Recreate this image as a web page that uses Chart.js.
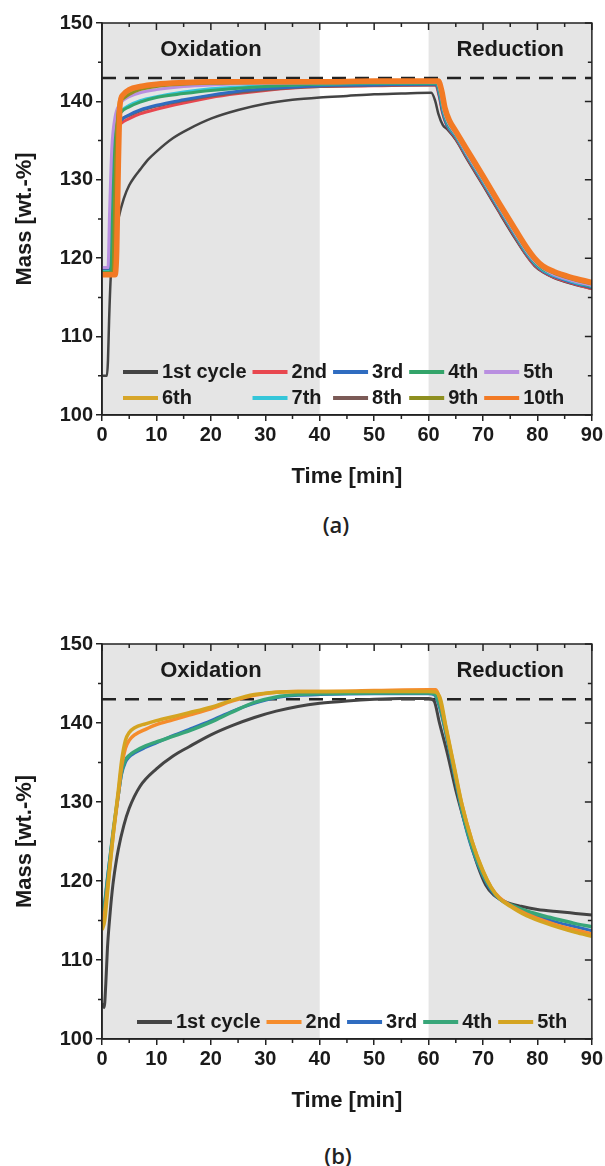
<!DOCTYPE html>
<html>
<head>
<meta charset="utf-8">
<script src="https://cdn.jsdelivr.net/npm/chart.js@4.4.1/dist/chart.umd.min.js"></script>
<style>
  html, body { margin: 0; padding: 0; background: #fff; }
  body { width: 605px; height: 1166px; position: relative; overflow: hidden; }
  canvas { position: absolute; left: 0; }
  .tag { position: absolute; transform: translate(-50%, -50%); font-family: "Open Sans", "DejaVu Sans", sans-serif; font-weight: 600; font-size: 22px; color: #222; }
</style>
</head>
<body>
<canvas id="chartA" width="605" height="495" style="top:0"></canvas>
<canvas id="chartB" width="605" height="498" style="top:621px"></canvas>
<div class="tag" style="left:336px;top:524px">(a)</div>
<div class="tag" style="left:338px;top:1155px">(b)</div>
<script>
// ---- data: [time (min), mass (wt.-%)] ----
const shadedRanges = [[0, 40], [60, 90]]
const phaseLabels = ['Oxidation', 'Reduction']
const phaseLabelT = [20, 75]
const phaseLabelMass = 146.6
const refMass = 143
const refLineT = [0, 90]

// (a) ten cycles
const labelsA = ['1st cycle', '2nd', '3rd', '4th', '5th', '6th', '7th', '8th', '9th', '10th']
const colorsA = ['#444444', '#e8474f', '#2f6cc0', '#33a46a', '#b98fe0', '#d7a62a', '#35c6d9', '#7b5a56', '#8e8f20', '#f27a25']

const cycle1A = [[0,105.0],[0.9,105.0],[1.1,107],[1.3,112],[1.6,117.5],[2.0,120.5],[2.5,123],[3,125],[4,127.6],[5,129.3],[6,130.4],[7,131.3],[8.5,132.6],[10,133.6],[13,135.3],[16,136.5],[20,137.8],[25,138.9],[30,139.7],[35,140.2],[40,140.5],[45,140.7],[50,140.9],[55,141.0],[60.5,141.1],[61.2,140.1],[61.8,138.4],[62.6,137.0],[63.5,136.4],[65,135.1],[67,132.7],[70,129.3],[73,125.8],[76,122.4],[78,120.3],[79.5,119.0],[81,118.2],[83,117.5],[86,116.8],[90,116.1]]
const cycle2A = [[0,118.6],[1.3,118.6],[1.6,124],[1.9,133],[2.3,135.5],[2.8,136.5],[3.5,137.2],[5,137.8],[7,138.4],[10,139.0],[15,139.8],[20,140.5],[25,141.0],[30,141.4],[35,141.7],[40,141.9],[50,142.0],[60,142.1],[61.3,142.1],[61.9,140.8],[62.5,138.7],[63.3,137.0],[65,135.3],[67,132.9],[70,129.5],[73,126.0],[76,122.6],[78,120.4],[79.5,119.1],[81,118.3],[83,117.6],[86,116.9],[90,116.1]]
const cycle3A = [[0,118.4],[1.4,118.4],[1.7,125],[2.0,133],[2.5,136.2],[3.2,137.3],[4,137.9],[5,138.3],[7,138.9],[10,139.5],[15,140.2],[20,140.8],[25,141.3],[30,141.6],[40,142.0],[50,142.1],[60,142.2],[61.4,142.2],[62.0,140.8],[62.6,138.7],[63.4,137.0],[65,135.5],[67,133.1],[70,129.7],[73,126.2],[76,122.8],[78,120.6],[79.5,119.3],[81,118.4],[83,117.7],[86,117.0],[90,116.3]]
const cycle4A = [[0,118.2],[1.6,118.2],[1.9,125],[2.3,134],[2.8,137.5],[3.5,138.6],[5,139.3],[7,139.9],[10,140.5],[15,141.0],[20,141.4],[30,141.9],[40,142.2],[60,142.3],[61.5,142.3],[62.1,141.0],[62.7,138.9],[63.5,137.2],[65,135.7],[67,133.3],[70,129.9],[73,126.4],[76,123.0],[78,120.8],[79.5,119.5],[81,118.6],[83,117.9],[86,117.2],[90,116.4]]
const cycle5A = [[0,118.8],[1.1,118.8],[1.4,126],[1.8,134],[2.4,138],[3.2,139.6],[4,140.2],[5,140.6],[7,141.1],[10,141.5],[15,141.9],[20,142.1],[30,142.3],[60,142.4],[61.6,142.4],[62.2,141.1],[62.8,138.9],[63.6,137.3],[65,135.8],[67,133.4],[70,130.0],[73,126.5],[76,123.1],[78,120.9],[79.5,119.6],[81,118.7],[83,117.9],[86,117.2],[90,116.5]]
const cycle6A = [[0,118.0],[2.1,118.0],[2.4,126],[2.8,137],[3.3,140.3],[4,140.9],[5,141.3],[7,141.8],[10,142.1],[20,142.4],[60,142.5],[61.7,142.5],[62.3,141.3],[62.9,139.1],[63.7,137.5],[65,136.1],[67,133.7],[70,130.3],[73,126.8],[76,123.4],[78,121.2],[79.5,119.9],[81,118.9],[83,118.2],[86,117.5],[90,116.8]]
const cycle7A = [[0,118.3],[1.7,118.3],[2.0,126],[2.4,134.5],[2.9,137.8],[3.6,138.8],[5,139.5],[7,140.1],[10,140.6],[15,141.2],[20,141.6],[30,142.0],[40,142.2],[60,142.3],[61.5,142.3],[62.1,140.9],[62.7,138.8],[63.5,137.1],[65,135.6],[67,133.2],[70,129.8],[73,126.3],[76,122.9],[78,120.7],[79.5,119.4],[81,118.5],[83,117.8],[86,117.1],[90,116.4]]
const cycle8A = [[0,118.5],[1.5,118.5],[1.8,125],[2.2,133.5],[2.7,136.6],[3.4,137.6],[5,138.2],[7,138.8],[10,139.4],[15,140.1],[20,140.7],[30,141.5],[40,141.9],[60,142.1],[61.4,142.1],[62.0,140.7],[62.6,138.6],[63.4,136.9],[65,135.4],[67,133.0],[70,129.6],[73,126.1],[76,122.7],[78,120.5],[79.5,119.2],[81,118.4],[83,117.7],[86,117.0],[90,116.2]]
const cycle9A = [[0,118.1],[2.0,118.1],[2.3,126],[2.7,136],[3.2,139.6],[4,140.4],[5,140.9],[7,141.5],[10,141.9],[20,142.3],[60,142.5],[61.7,142.5],[62.3,141.2],[62.9,139.0],[63.7,137.4],[65,136.0],[67,133.6],[70,130.2],[73,126.7],[76,123.3],[78,121.1],[79.5,119.8],[81,118.8],[83,118.1],[86,117.4],[90,116.7]]
const cycle10A = [[0,117.9],[2.4,117.9],[2.7,121],[3.0,132],[3.3,139.5],[3.8,140.8],[5,141.5],[7,141.9],[10,142.2],[15,142.4],[20,142.5],[30,142.5],[40,142.5],[50,142.6],[60,142.6],[61.8,142.6],[62.4,141.4],[63,139.2],[63.8,137.6],[65,136.2],[67,133.9],[70,130.5],[73,127.0],[76,123.6],[78,121.4],[79.5,120.0],[81,119.0],[83,118.3],[86,117.6],[90,116.9]]

// (b) five cycles
const labelsB = ['1st cycle', '2nd', '3rd', '4th', '5th']
const colorsB = ['#444444', '#f58c2c', '#2f6cc0', '#38a679', '#d4a421']

const cycle1B = [[0,104.5],[0.4,104.0],[0.7,107],[1.0,111.5],[1.5,116],[2,119.5],[2.5,122],[3,124],[4,127],[5,129.2],[7,132.0],[10,134.2],[13,135.8],[16,137.0],[20,138.5],[24,139.7],[28,140.7],[32,141.5],[36,142.1],[40,142.5],[45,142.8],[50,143.0],[55,143.1],[60,143.1],[61,142.8],[62,140],[63.5,136],[65,131.5],[67,126.5],[69,122],[70.5,119.5],[72,118.2],[74,117.4],[77,116.8],[80,116.4],[84,116.1],[87,115.9],[90,115.7]]
const cycle2B = [[0,114.5],[0.5,116],[1,119],[2,125.5],[3,131],[3.6,134.5],[4.3,136.8],[5,137.8],[6,138.5],[8,139.2],[10,139.8],[13,140.4],[16,141.0],[20,141.8],[24,142.8],[28,143.5],[32,143.9],[36,144.0],[40,144.0],[50,144.1],[60,144.2],[61.3,144.2],[62,143.2],[63,140],[64.5,135],[66,130],[68,125],[70,121.2],[71.5,119.2],[73,117.9],[75,116.9],[78,115.8],[81,115.0],[84,114.3],[87,113.8],[90,113.3]]
const cycle3B = [[0,116.0],[0.5,117.5],[1,120.5],[2,126],[3,130.8],[3.6,133.5],[4.3,135.0],[5,135.7],[6,136.2],[8,136.9],[10,137.5],[13,138.4],[16,139.2],[20,140.3],[24,141.5],[28,142.5],[32,143.2],[36,143.5],[40,143.6],[50,143.7],[60,143.7],[61,143.6],[62,142],[63.3,138.2],[64.8,133.2],[66.3,128.2],[68,124],[70,120.6],[71.5,118.8],[73,117.7],[75,116.9],[78,116.0],[81,115.3],[84,114.7],[87,114.2],[90,113.7]]
const cycle4B = [[0,115.5],[0.5,117],[1,120],[2,126],[3,131],[3.6,133.8],[4.3,135.3],[5,135.9],[6,136.4],[8,137.1],[10,137.6],[13,138.3],[16,139.0],[20,140.1],[24,141.4],[28,142.6],[32,143.3],[36,143.6],[40,143.7],[50,143.8],[60,143.8],[61,143.7],[62,142.3],[63.3,138.5],[64.8,133.5],[66.3,128.5],[68,124.3],[70,120.8],[71.5,119],[73,117.8],[75,117.0],[78,116.2],[81,115.6],[84,115.1],[87,114.6],[90,114.2]]
const cycle5B = [[0,113.8],[0.5,115],[1,118.5],[2,125.5],[3,131.5],[3.6,135.2],[4.3,137.8],[5,138.8],[6,139.4],[8,139.9],[10,140.3],[13,140.8],[16,141.3],[20,142.0],[24,142.9],[28,143.6],[32,143.9],[36,144.0],[50,144.0],[60,144.0],[61.3,143.9],[62.2,143],[63.2,139.5],[64.7,134.5],[66.2,129.5],[68,125],[70,121.3],[71.5,119.2],[73,117.8],[75,116.8],[78,115.6],[81,114.8],[84,114.1],[87,113.5],[90,113.0]]

const seriesA = [cycle1A, cycle2A, cycle3A, cycle4A, cycle5A, cycle6A, cycle7A, cycle8A, cycle9A, cycle10A]
const seriesB = [cycle1B, cycle2B, cycle3B, cycle4B, cycle5B]

// ---- styling ----
const FONT = '"Liberation Sans", Arial, sans-serif'
const INK = '#1a1a1a'
const AXIS = '#222'

const toPts = arr => arr.map(([x, y]) => ({ x, y }))

function refLine() {
  return {
    label: '',
    data: toPts(refLineT.map(t => [t, refMass])),
    borderColor: AXIS,
    borderWidth: 2.5,
    borderDash: [14, 9],
    pointRadius: 0,
    order: 50,
  }
}

function buildDatasets(series, labels, colors, widths, orders) {
  return series.map((pts, i) => ({
    label: labels[i],
    data: toPts(pts),
    borderColor: colors[i],
    backgroundColor: colors[i],
    borderWidth: widths[i],
    pointRadius: 0,
    cubicInterpolationMode: 'monotone',
    fill: false,
    order: orders[i],
  })).concat([refLine()])
}

const phasePlugin = {
  id: 'phases',
  beforeDraw(chart) {
    const { ctx, chartArea: a, scales: { x, y } } = chart
    ctx.save()
    ctx.fillStyle = '#e5e5e5'
    shadedRanges.forEach(([t0, t1]) => {
      const x0 = x.getPixelForValue(t0), x1 = x.getPixelForValue(t1)
      ctx.fillRect(x0, a.top, x1 - x0, a.bottom - a.top)
    })
    ctx.fillStyle = INK
    ctx.font = 'bold 22px ' + FONT
    ctx.textAlign = 'center'
    ctx.textBaseline = 'middle'
    phaseLabels.forEach((txt, i) => {
      ctx.fillText(txt, x.getPixelForValue(phaseLabelT[i]), y.getPixelForValue(phaseLabelMass))
    })
    ctx.restore()
  },
}

// box frame + minor ticks and mirrored ticks on top/right
const frameTicks = {
  id: 'frameTicks',
  afterDraw(chart) {
    const { ctx, chartArea: a, scales: { x, y } } = chart
    ctx.save()
    ctx.strokeStyle = AXIS
    ctx.lineWidth = 1.5
    ctx.strokeRect(a.left, a.top, a.right - a.left, a.bottom - a.top)
    ctx.beginPath()
    for (let t = x.min; t <= x.max; t += 5) {
      const px = x.getPixelForValue(t), major = t % 10 === 0
      ctx.moveTo(px, a.top); ctx.lineTo(px, a.top + (major ? 7 : 4))
      if (!major) { ctx.moveTo(px, a.bottom); ctx.lineTo(px, a.bottom + 4) }
    }
    for (let m = y.min; m <= y.max; m += 5) {
      const py = y.getPixelForValue(m), major = m % 10 === 0
      ctx.moveTo(a.right, py); ctx.lineTo(a.right - (major ? 7 : 4), py)
      if (!major) { ctx.moveTo(a.left, py); ctx.lineTo(a.left - 4, py) }
    }
    ctx.stroke()
    ctx.restore()
  },
}

// legend drawn inside the plot, in columns
const insideLegend = {
  id: 'insideLegend',
  afterDraw(chart, args, opts) {
    const { ctx, chartArea: a } = chart
    const items = chart.data.datasets.filter(d => d.label)
    const cols = opts.columns
    const rows = Math.ceil(items.length / cols)
    ctx.save()
    ctx.font = 'bold 20px ' + FONT
    ctx.textBaseline = 'middle'
    const colW = []
    for (let c = 0; c < cols; c++) {
      let w = 0
      for (let r = 0; r < rows; r++) {
        const d = items[r * cols + c]
        if (d) w = Math.max(w, ctx.measureText(d.label).width)
      }
      colW.push(w)
    }
    items.forEach((d, i) => {
      const r = Math.floor(i / cols), c = i % cols
      let x0 = a.left + opts.left
      for (let k = 0; k < c; k++) x0 += opts.line + opts.gap + colW[k] + opts.space
      const y0 = a.bottom - opts.bottom - (rows - 1 - r) * opts.rowH
      ctx.strokeStyle = d.borderColor
      ctx.lineWidth = 4
      ctx.beginPath(); ctx.moveTo(x0, y0); ctx.lineTo(x0 + opts.line, y0); ctx.stroke()
      ctx.fillStyle = INK
      ctx.fillText(d.label, x0 + opts.line + opts.gap, y0)
    })
    ctx.restore()
  },
}

function options(legendOpts) {
  const tickFont = { family: FONT, size: 20, weight: 'bold' }
  const titleFont = { family: FONT, size: 22, weight: 'bold' }
  return {
    responsive: false,
    animation: false,
    events: [],
    layout: { padding: { top: 23, right: 13, left: 0, bottom: 0 } },
    plugins: {
      legend: { display: false },
      tooltip: { enabled: false },
      insideLegend: legendOpts,
    },
    scales: {
      x: {
        type: 'linear', min: 0, max: 90,
        ticks: { stepSize: 10, color: INK, font: tickFont, padding: 2, maxRotation: 0, autoSkip: false },
        grid: { drawOnChartArea: false, tickLength: 6, color: AXIS, lineWidth: 1.5 },
        border: { color: AXIS, width: 1.5 },
        title: { display: true, text: 'Time [min]', color: INK, font: titleFont, padding: { top: 0, bottom: 5 } },
        afterFit: s => { s.height = 80 },
      },
      y: {
        min: 100, max: 150,
        ticks: { stepSize: 10, color: INK, font: tickFont, padding: 3 },
        grid: { drawOnChartArea: false, tickLength: 6, color: AXIS, lineWidth: 1.5 },
        border: { color: AXIS, width: 1.5 },
        title: { display: true, text: 'Mass [wt.-%]', color: INK, font: titleFont, padding: { top: 12, bottom: 0 } },
        afterFit: s => { s.width = 102 },
      },
    },
  }
}

new Chart(document.getElementById('chartA'), {
  type: 'line',
  data: {
    datasets: buildDatasets(seriesA, labelsA, colorsA,
      [2.5, 3, 3, 3, 3, 3, 3, 3, 3, 5.5],
      [11, 10, 9, 8, 7, 4, 8, 9, 3, 2]),
  },
  options: options({ columns: 5, left: 21, line: 35, gap: 4, space: 6, bottom: 17, rowH: 26 }),
  plugins: [phasePlugin, frameTicks, insideLegend],
})

new Chart(document.getElementById('chartB'), {
  type: 'line',
  data: {
    datasets: buildDatasets(seriesB, labelsB, colorsB,
      [3, 3.5, 3, 3.5, 3.5],
      [10, 5, 8, 7, 4]),
  },
  options: options({ columns: 5, left: 35, line: 35, gap: 4, space: 6, bottom: 17, rowH: 26 }),
  plugins: [phasePlugin, frameTicks, insideLegend],
})
</script>
</body>
</html>
